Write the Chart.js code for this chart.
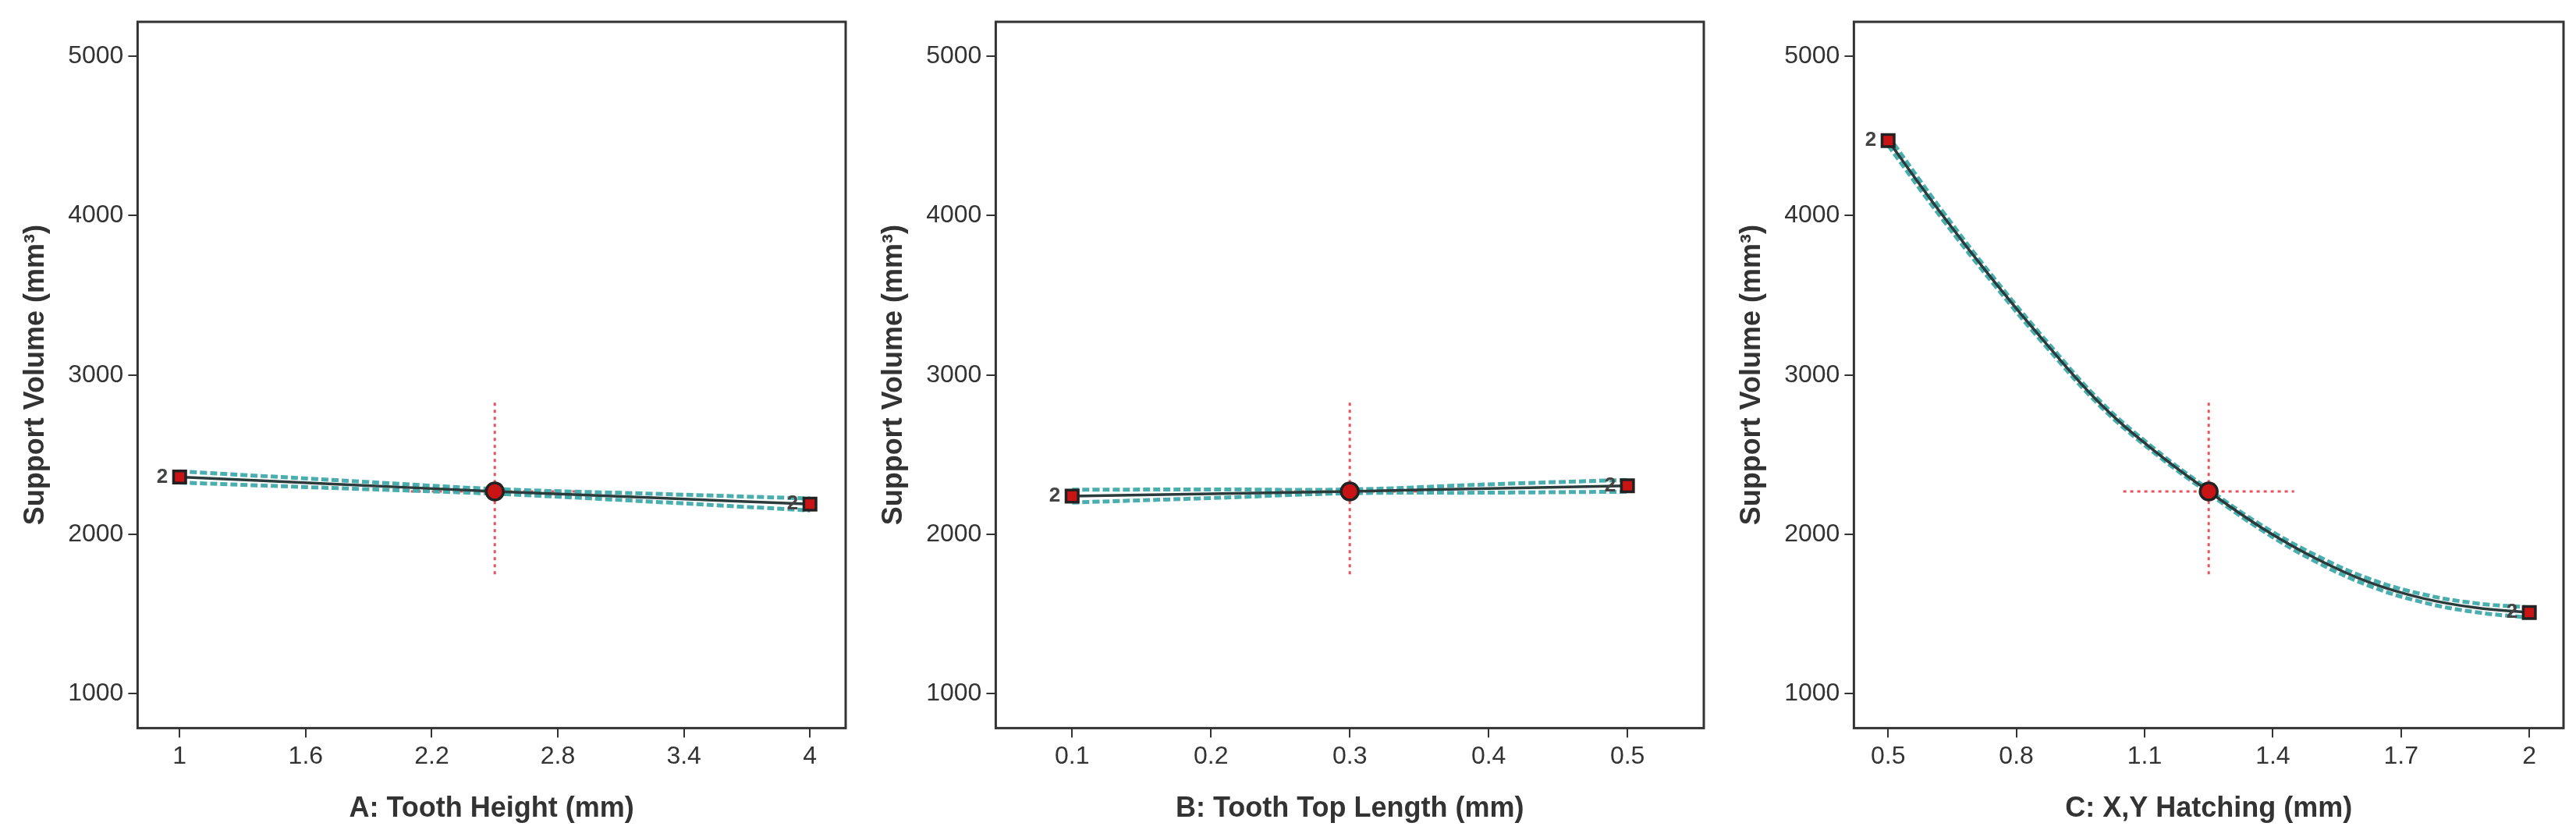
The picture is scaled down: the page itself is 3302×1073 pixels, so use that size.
<!DOCTYPE html>
<html><head><meta charset="utf-8">
<script src="https://cdn.jsdelivr.net/npm/chart.js@4/dist/chart.umd.min.js"></script>
<style>
body{margin:0;background:#fff;width:3302px;height:1073px;position:relative;overflow:hidden}
.p{position:absolute;top:0;height:1073px}
</style></head><body>
<div class="p" style="left:0;width:1100px"><canvas id="c1"></canvas></div>
<div class="p" style="left:1100px;width:1100px"><canvas id="c2"></canvas></div>
<div class="p" style="left:2200px;width:1102px"><canvas id="c3"></canvas></div>
<script>
// Panel A
const aX=[1,1.75,2.5,3.25,4];
const aY=[2360,2315,2270,2230,2190];
const aLo=[2325,2290,2255,2205,2150];
const aHi=[2395,2340,2285,2255,2225];
const aTicks=[1,1.6,2.2,2.8,3.4,4];
const aCrossH=[2.1,2.9];
// Panel B
const bX=[0.1,0.2,0.3,0.4,0.5];
const bY=[2240,2255,2270,2288,2305];
const bLo=[2200,2228,2258,2262,2268];
const bHi=[2280,2282,2282,2314,2342];
const bTicks=[0.1,0.2,0.3,0.4,0.5];
const bCrossH=[0.25,0.35];
// Panel C
const cX=[0.5,0.625,0.75,0.875,1.0,1.125,1.25,1.375,1.5,1.625,1.75,1.875,2.0];
const cY=[4470,4010,3580,3180,2810,2520,2270,2040,1850,1700,1600,1540,1510];
const cLo=[4440,3985,3560,3162,2795,2507,2258,2025,1830,1678,1575,1512,1478];
const cHi=[4500,4035,3600,3198,2825,2533,2282,2055,1870,1722,1625,1568,1542];
const cTicks=[0.5,0.8,1.1,1.4,1.7,2];
const cCrossH=[1.05,1.45];
const yTicks=[1000,2000,3000,4000,5000];
const crossV=[1750,2830];

const frame={id:'frame',afterDatasetsDraw(ch){const a=ch.chartArea,c=ch.ctx;c.save();c.strokeStyle='#333';c.lineWidth=3;c.strokeRect(a.left,a.top,a.right-a.left,a.bottom-a.top);
 const ds=ch.data.datasets[0].data;c.fillStyle='#444';c.font='bold 26px "Liberation Sans"';c.textAlign='right';c.textBaseline='middle';
 [ds[0],ds[ds.length-1]].forEach(p=>{c.fillText('2',ch.scales.x.getPixelForValue(p.x)-15,ch.scales.y.getPixelForValue(p.y));});
 c.restore();}};

function make(id,X,Y,Lo,Hi,ticks,xmin,xmax,title,ch){
 const xs=X.map((x,i)=>({x,y:Y[i]}));
 const mid=Math.floor(X.length/2);
 const cx=X[mid],cy=Y[mid];
 const pts=[{x:X[0],y:Y[0]},{x:cx,y:cy},{x:X[X.length-1],y:Y[Y.length-1]}];
 new Chart(document.getElementById(id),{type:'scatter',
 data:{datasets:[
  {data:xs,showLine:true,borderColor:'#2b3a3a',borderWidth:3.5,pointRadius:0,tension:0.4,order:1},
  {data:X.map((x,i)=>({x,y:Lo[i]})),showLine:true,borderColor:'#4aaeae',borderWidth:5,borderDash:[9,4],pointRadius:0,tension:0.4,order:2},
  {data:X.map((x,i)=>({x,y:Hi[i]})),showLine:true,borderColor:'#4aaeae',borderWidth:5,borderDash:[9,4],pointRadius:0,tension:0.4,order:2},
  {data:[{x:cx,y:crossV[0]},{x:cx,y:crossV[1]}],showLine:true,borderColor:'#e8535f',borderWidth:3,borderDash:[4,5],pointRadius:0,order:3},
  {data:[{x:ch[0],y:cy},{x:ch[1],y:cy}],showLine:true,borderColor:'#e8535f',borderWidth:3,borderDash:[4,5],pointRadius:0,order:3},
  {data:pts,showLine:false,pointStyle:['rect','circle','rect'],pointRadius:[11,11,11],backgroundColor:'#c81414',borderColor:'#222',borderWidth:3.5,order:0}
 ]},
 options:{responsive:false,animation:false,devicePixelRatio:1,
  layout:{padding:{left:20,right:16,top:28,bottom:10}},
  plugins:{legend:{display:false},tooltip:{enabled:false}},
  scales:{
   x:{type:'linear',min:xmin,max:xmax,afterBuildTicks(s){s.ticks=ticks.map(v=>({value:v}));},
    grid:{display:true,drawOnChartArea:false,color:'#333',lineWidth:2,tickLength:12},border:{display:false},
    ticks:{color:'#333',font:{size:32,family:'Liberation Sans'},autoSkip:false,maxRotation:0,padding:6,callback:v=>String(v)},
    title:{display:true,text:title,color:'#333',font:{size:36,weight:'bold',family:'Liberation Sans'},padding:{top:20}}},
   y:{min:785,max:5215,afterBuildTicks(s){s.ticks=yTicks.map(v=>({value:v}));},
    grid:{display:true,drawOnChartArea:false,color:'#333',lineWidth:2,tickLength:12},border:{display:false},
    ticks:{color:'#333',font:{size:32,family:'Liberation Sans'},padding:6,callback:v=>String(v)},
    title:{display:true,text:'Support Volume (mm³)',color:'#333',font:{size:36,weight:'bold',family:'Liberation Sans'},padding:{bottom:14}}}
  }},plugins:[frame]});
}
function size(id,w){const c=document.getElementById(id);c.width=w;c.height=1073;}
size('c1',1100);size('c2',1100);size('c3',1102);
make('c1',aX,aY,aLo,aHi,aTicks,0.8,4.17,'A: Tooth Height (mm)',aCrossH);
make('c2',bX,bY,bLo,bHi,bTicks,0.045,0.555,'B: Tooth Top Length (mm)',bCrossH);
make('c3',cX,cY,cLo,cHi,cTicks,0.42,2.08,'C: X,Y Hatching (mm)',cCrossH);
</script></body></html>
